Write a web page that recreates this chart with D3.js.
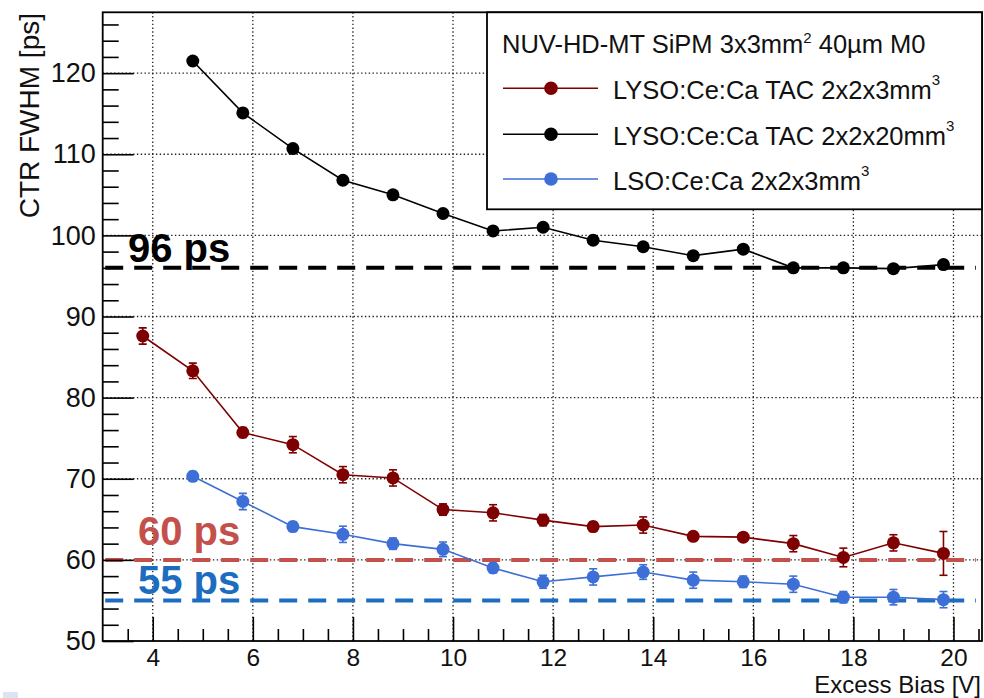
<!DOCTYPE html>
<html><head><meta charset="utf-8">
<script src="https://cdn.jsdelivr.net/npm/d3@7"></script>
<style>
body{margin:0;background:#fff}
svg{display:block}
text{font-family:"Liberation Sans",Arial,Helvetica,sans-serif}
</style>
</head><body>
<svg id="chart" width="984" height="698"></svg>
<script>
// ---------------- data ----------------
const biasRed   = [3.8,4.8,5.8,6.8,7.8,8.8,9.8,10.8,11.8,12.8,13.8,14.8,15.8,16.8,17.8,18.8,19.8];
const ctrRed    = [87.6,83.3,75.7,74.2,70.5,70.1,66.2,65.8,64.9,64.1,64.3,62.9,62.8,62.0,60.3,62.1,60.8];
const errRed    = [1.0,0.95,0.6,1.0,1.0,1.0,0.7,1.0,0.7,0.6,1.0,0.5,0.5,1.0,1.15,1.0,2.7];

const biasBlack = [4.8,5.8,6.8,7.8,8.8,9.8,10.8,11.8,12.8,13.8,14.8,15.8,16.8,17.8,18.8,19.8];
const ctrBlack  = [121.5,115.1,110.7,106.8,105.0,102.7,100.55,101.0,99.4,98.6,97.5,98.3,96.0,96.0,95.9,96.4];
const errBlack  = [0.3,0.3,0.3,0.3,0.3,0.3,0.3,0.3,0.3,0.3,0.3,0.3,0.3,0.3,0.3,0.3];

const biasBlue  = [4.8,5.8,6.8,7.8,8.8,9.8,10.8,11.8,12.8,13.8,14.8,15.8,16.8,17.8,18.8,19.8];
const ctrBlue   = [70.3,67.2,64.1,63.15,62.0,61.3,59.0,57.3,57.9,58.5,57.5,57.3,57.0,55.4,55.4,55.1];
const errBlue   = [0.6,1.0,0.6,1.0,0.7,0.9,0.6,0.8,1.0,0.9,1.0,0.7,1.0,0.7,0.95,1.0];

const refValues = [96, 60, 55];
const refLabels = ["96 ps", "60 ps", "55 ps"];

const xTicks = [4,6,8,10,12,14,16,18,20];
const xMinorTicks = [3.5,4.5,5,5.5,6.5,7,7.5,8.5,9,9.5,10.5,11,11.5,12.5,13,13.5,14.5,15,15.5,16.5,17,17.5,18.5,19,19.5,20.5];
const yTicks = [50,60,70,80,90,100,110,120];
const yMinorTicks = [52,54,56,58,62,64,66,68,72,74,76,78,82,84,86,88,92,94,96,98,102,104,106,108,112,114,116,118,122,124,126];

const legendTitle = "NUV-HD-MT SiPM 3x3mm";
const legendTitleSup = "2";
const legendTitleEnd = " 40µm M0";
const seriesNames = ["LYSO:Ce:Ca TAC 2x2x3mm", "LYSO:Ce:Ca TAC 2x2x20mm", "LSO:Ce:Ca 2x2x3mm"];
const seriesSup = ["3", "3", "3"];
const xTitle = "Excess Bias [V]";
const yTitle = "CTR FWHM [ps]";

// ---------------- styles ----------------
const seriesColors = ["#7f0000", "#000000", "#3d6fd6"];
const refColors = ["#000000", "#c4504c", "#1c6dc0"];

const svg = d3.select("#chart");
const L = 102.7, R = 982, T = 12.3, B = 641;
const x = d3.scaleLinear().domain([3, 20.57]).range([L, R]);
const y = d3.scaleLinear().domain([50, 127.5]).range([B, T]);

svg.append("rect").attr("width",984).attr("height",698).attr("fill","#fff");
// small artifact square bottom-left
svg.append("rect").attr("x",3).attr("y",692).attr("width",15).attr("height",6).attr("fill","#dbe4f0");

svg.append("defs").append("clipPath").attr("id","clip")
  .append("rect").attr("x",L).attr("y",T).attr("width",R-L).attr("height",B-T);

// grid
const grid = svg.append("g").attr("stroke","#222").attr("stroke-width",1.3).attr("stroke-dasharray","1.4,2.4");
grid.selectAll("line.gx").data(xTicks).join("line")
  .attr("x1",d=>x(d)).attr("x2",d=>x(d)).attr("y1",T).attr("y2",B);
grid.selectAll("line.gy").data(yTicks.filter(d=>d>50)).join("line")
  .attr("y1",d=>y(d)).attr("y2",d=>y(d)).attr("x1",L).attr("x2",R);

// reference lines
const refG = svg.append("g").attr("clip-path","url(#clip)");
refG.selectAll("line").data(refValues).join("line")
  .attr("x1", x(3.05)).attr("x2", x(20.45))
  .attr("y1", d=>y(d)).attr("y2", d=>y(d))
  .attr("stroke", (d,i)=>refColors[i])
  .attr("stroke-width", 4)
  .attr("stroke-dasharray", "18,11");

// reference labels
const refLabelX = [128, 138, 138];
const refLabelY = [262, 545, 594];
svg.selectAll("text.ref").data(refLabels).join("text")
  .attr("class","ref")
  .attr("x",(d,i)=>refLabelX[i]).attr("y",(d,i)=>refLabelY[i])
  .attr("fill",(d,i)=>refColors[i])
  .attr("font-size",40).attr("font-weight","bold")
  .text(d=>d);

// series
const series = [
  {bias: biasRed, ctr: ctrRed, err: errRed, color: seriesColors[0]},
  {bias: biasBlack, ctr: ctrBlack, err: errBlack, color: seriesColors[1]},
  {bias: biasBlue, ctr: ctrBlue, err: errBlue, color: seriesColors[2]}
];
const plotG = svg.append("g").attr("clip-path","url(#clip)");
const line = d3.line().x(d=>x(d[0])).y(d=>y(d[1]));
series.forEach(s => {
  const pts = s.bias.map((b,i)=>[b, s.ctr[i], s.err[i]]);
  const g = plotG.append("g");
  g.append("path").datum(pts).attr("d", line)
    .attr("fill","none").attr("stroke", s.color).attr("stroke-width",1.6);
  const eb = g.selectAll("g.eb").data(pts).join("g").attr("stroke", s.color).attr("stroke-width",1.6);
  eb.append("line").attr("x1",d=>x(d[0])).attr("x2",d=>x(d[0]))
    .attr("y1",d=>y(d[1]-d[2])).attr("y2",d=>y(d[1]+d[2]));
  eb.append("line").attr("x1",d=>x(d[0])-4).attr("x2",d=>x(d[0])+4)
    .attr("y1",d=>y(d[1]-d[2])).attr("y2",d=>y(d[1]-d[2]));
  eb.append("line").attr("x1",d=>x(d[0])-4).attr("x2",d=>x(d[0])+4)
    .attr("y1",d=>y(d[1]+d[2])).attr("y2",d=>y(d[1]+d[2]));
  g.selectAll("circle").data(pts).join("circle")
    .attr("cx",d=>x(d[0])).attr("cy",d=>y(d[1])).attr("r",6.5).attr("fill",s.color);
});

// axes
const axG = svg.append("g");
const yMajor = axG.append("g").attr("transform",`translate(${L},0)`)
  .call(d3.axisLeft(y).tickValues(yTicks).tickSize(-31).tickPadding(6).tickFormat(d3.format("d")));
const yMinor = axG.append("g").attr("transform",`translate(${L},0)`)
  .call(d3.axisLeft(y).tickValues(yMinorTicks).tickSize(-16).tickFormat(""));
const xMajor = axG.append("g").attr("transform",`translate(0,${B})`)
  .call(d3.axisBottom(x).tickValues(xTicks).tickSize(-24).tickPadding(8).tickFormat(d3.format("d")));
const xMinor = axG.append("g").attr("transform",`translate(0,${B})`)
  .call(d3.axisBottom(x).tickValues(xMinorTicks).tickSize(-12).tickFormat(""));
axG.selectAll(".domain").remove();
axG.selectAll(".tick line").attr("stroke","#000").attr("stroke-width",1.6);
yMajor.selectAll(".tick text").attr("font-size",27).attr("fill","#111")
  .attr("font-family","'Liberation Sans',Arial,sans-serif").attr("x",-7);
xMajor.selectAll(".tick text").attr("font-size",24.5).attr("fill","#111")
  .attr("font-family","'Liberation Sans',Arial,sans-serif").attr("y",24.5).attr("dy",0);

// frame
svg.append("rect").attr("x",L).attr("y",T).attr("width",R-L).attr("height",B-T)
  .attr("fill","none").attr("stroke","#000").attr("stroke-width",1.8);

// axis titles
svg.append("text").attr("x",981).attr("y",692.5).attr("text-anchor","end")
  .attr("font-size",24).attr("fill","#111").text(xTitle);
svg.append("text").attr("transform","translate(39,13) rotate(-90)").attr("text-anchor","end")
  .attr("font-size",28).attr("fill","#111").text(yTitle);

// legend
const lg = svg.append("g");
lg.append("rect").attr("x",487).attr("y",T).attr("width",R-487).attr("height",209.3-T)
  .attr("fill","#fff").attr("stroke","#000").attr("stroke-width",1.8);
const tt = lg.append("text").attr("x",502).attr("y",53).attr("font-size",25.5).attr("fill","#111");
tt.append("tspan").text(legendTitle);
tt.append("tspan").attr("font-size",15).attr("dy",-10).text(legendTitleSup);
tt.append("tspan").attr("dy",10).text(legendTitleEnd);
const rowY = [88.3, 134.3, 179];
seriesNames.forEach((name,i) => {
  lg.append("line").attr("x1",503).attr("x2",598).attr("y1",rowY[i]).attr("y2",rowY[i])
    .attr("stroke",seriesColors[i]).attr("stroke-width",1.6);
  lg.append("circle").attr("cx",551).attr("cy",rowY[i]).attr("r",6.8).attr("fill",seriesColors[i]);
  const t = lg.append("text").attr("x",613).attr("y",rowY[i]+10.5).attr("font-size",25.5).attr("fill","#111");
  t.append("tspan").text(name);
  t.append("tspan").attr("font-size",15).attr("dy",-14).text(seriesSup[i]);
});
</script>
</body></html>
